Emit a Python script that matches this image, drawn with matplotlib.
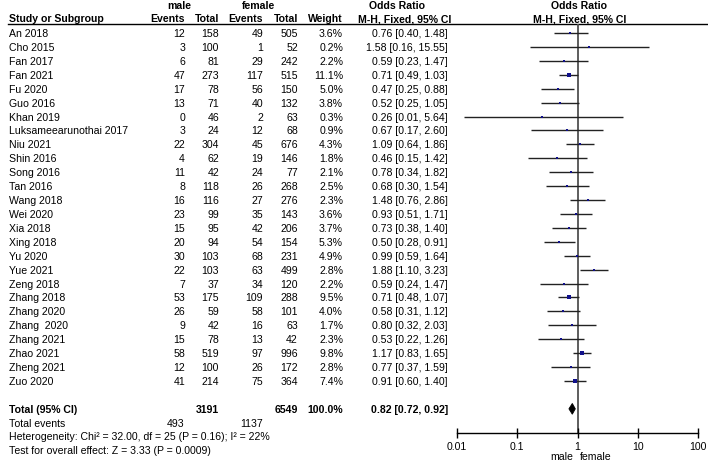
import matplotlib
matplotlib.use("Agg")
import matplotlib.pyplot as plt
from matplotlib.patches import Polygon

plt.rcParams['font.family'] = ['Liberation Sans', 'DejaVu Sans']

studies = ["An 2018", "Cho 2015", "Fan 2017", "Fan 2021", "Fu 2020", "Guo 2016", "Khan 2019",
           "Luksameearunothai 2017", "Niu 2021", "Shin 2016", "Song 2016", "Tan 2016", "Wang 2018",
           "Wei 2020", "Xia 2018", "Xing 2018", "Yu 2020", "Yue 2021", "Zeng 2018", "Zhang 2018",
           "Zhang 2020", "Zhang  2020", "Zhang 2021", "Zhao 2021", "Zheng 2021", "Zuo 2020"]
male_events = [12, 3, 6, 47, 17, 13, 0, 3, 22, 4, 11, 8, 16, 23, 15, 20, 30, 22, 7, 53, 26, 9, 15, 58, 12, 41]
male_total = [158, 100, 81, 273, 78, 71, 46, 24, 304, 62, 42, 118, 116, 99, 95, 94, 103, 103, 37, 175, 59, 42, 78, 519, 100, 214]
female_events = [49, 1, 29, 117, 56, 40, 2, 12, 45, 19, 24, 26, 27, 35, 42, 54, 68, 63, 34, 109, 58, 16, 13, 97, 26, 75]
female_total = [505, 52, 242, 515, 150, 132, 63, 68, 676, 146, 77, 268, 276, 143, 206, 154, 231, 499, 120, 288, 101, 63, 42, 996, 172, 364]
weights = [3.6, 0.2, 2.2, 11.1, 5.0, 3.8, 0.3, 0.9, 4.3, 1.8, 2.1, 2.5, 2.3, 3.6, 3.7, 5.3, 4.9, 2.8, 2.2, 9.5, 4.0, 1.7, 2.3, 9.8, 2.8, 7.4]
odds = [0.76, 1.58, 0.59, 0.71, 0.47, 0.52, 0.26, 0.67, 1.09, 0.46, 0.78, 0.68, 1.48, 0.93, 0.73, 0.50, 0.99, 1.88, 0.59, 0.71, 0.58, 0.80, 0.53, 1.17, 0.77, 0.91]
ci_low = [0.40, 0.16, 0.23, 0.49, 0.25, 0.25, 0.013, 0.17, 0.64, 0.15, 0.34, 0.30, 0.76, 0.51, 0.38, 0.28, 0.59, 1.10, 0.24, 0.48, 0.31, 0.32, 0.22, 0.83, 0.37, 0.60]
ci_high = [1.48, 15.55, 1.47, 1.03, 0.88, 1.05, 5.64, 2.60, 1.86, 1.42, 1.82, 1.54, 2.86, 1.71, 1.40, 0.91, 1.64, 3.23, 1.47, 1.07, 1.12, 2.03, 1.26, 1.65, 1.59, 1.40]
pooled_or = 0.82
pooled_low = 0.72
pooled_high = 0.92
total_weight = 100.0
total_male = 3191
total_female = 6549
events_male_total = 493
events_female_total = 1137
heterogeneity = "Heterogeneity: Chi² = 32.00, df = 25 (P = 0.16); I² = 22%"
overall = "Test for overall effect: Z = 3.33 (P = 0.0009)"
xticks = [0.01, 0.1, 1, 10, 100]
xtick_labels = ["0.01", "0.1", "1", "10", "100"]

W, H = 708, 464
fig = plt.figure(figsize=(W / 100, H / 100), dpi=100)

# layout in pixels
y0, dy = 34.0, 13.92
head_line = 24.5
axis_y = 434.0
fx0, fx1 = 457.0, 698.0
fs = 7.6

def ry(i):
    return y0 + dy * i

# text axes in pixel coordinates
ax_t = fig.add_axes([0, 0, 1, 1])
ax_t.set_xlim(0, W)
ax_t.set_ylim(H, 0)
ax_t.axis('off')

# forest axes
ax_f = fig.add_axes([fx0 / W, (H - axis_y) / H, (fx1 - fx0) / W, (axis_y - head_line) / H])
ax_f.set_xscale('log')
ax_f.set_xlim(0.01, 100)
ax_f.set_ylim((axis_y - y0) / dy, (head_line - y0) / dy)
ax_f.patch.set_alpha(0)
for s in ['top', 'left', 'right']:
    ax_f.spines[s].set_visible(False)
ax_f.spines['bottom'].set_linewidth(1.0)
ax_f.set_yticks([])
ax_f.set_xticks(xticks)
ax_f.set_xticklabels(xtick_labels, fontsize=fs)
ax_f.minorticks_off()
ax_f.tick_params(axis='x', direction='inout', length=7, width=1.0, pad=2)

# header
kw = dict(fontsize=fs, va='center')
ax_t.text(179, 6, "male", ha='center', fontweight='bold', **kw)
ax_t.text(258, 6, "female", ha='center', fontweight='bold', **kw)
ax_t.text(397, 6, "Odds Ratio", ha='center', fontweight='bold', **kw)
ax_t.text(579, 6, "Odds Ratio", ha='center', fontweight='bold', **kw)
ax_t.text(9, 19.5, "Study or Subgroup", ha='left', fontweight='bold', **kw)
ax_t.text(185, 19.5, "Events", ha='right', fontweight='bold', **kw)
ax_t.text(219, 19.5, "Total", ha='right', fontweight='bold', **kw)
ax_t.text(263, 19.5, "Events", ha='right', fontweight='bold', **kw)
ax_t.text(298, 19.5, "Total", ha='right', fontweight='bold', **kw)
ax_t.text(343, 19.5, "Weight", ha='right', fontweight='bold', **kw)
ax_t.text(405, 19.5, "M-H, Fixed, 95% CI", ha='center', fontweight='bold', **kw)
ax_t.text(580, 19.5, "M-H, Fixed, 95% CI", ha='center', fontweight='bold', **kw)
ax_t.plot([8, W], [head_line, head_line], color='black', lw=1.0)

# study rows
for i, name in enumerate(studies):
    y = ry(i)
    ax_t.text(9, y, name, ha='left', **kw)
    ax_t.text(185, y, f"{male_events[i]}", ha='right', **kw)
    ax_t.text(219, y, f"{male_total[i]}", ha='right', **kw)
    ax_t.text(263, y, f"{female_events[i]}", ha='right', **kw)
    ax_t.text(298, y, f"{female_total[i]}", ha='right', **kw)
    ax_t.text(343, y, f"{weights[i]:.1f}%", ha='right', **kw)
    ax_t.text(448, y, f"{odds[i]:.2f} [{ci_low[i]:.2f}, {ci_high[i]:.2f}]", ha='right', **kw)

# forest marks
ax_f.axvline(1, color='#505050', lw=1.3, zorder=1)
for i in range(len(studies)):
    ax_f.plot([ci_low[i], ci_high[i]], [i, i], color='#222222', lw=1.0, zorder=2,
              clip_on=False, solid_capstyle='butt')
    side_px = max(2.0, 1.15 * weights[i] ** 0.5)
    ax_f.plot([odds[i]], [i], marker='s', color='#10108a', markersize=side_px * 0.72,
              markeredgewidth=0, zorder=3)

# total row
tr = len(studies) + 1
yt = ry(tr)
ax_t.text(9, yt, "Total (95% CI)", ha='left', fontweight='bold', **kw)
ax_t.text(219, yt, f"{total_male}", ha='right', fontweight='bold', **kw)
ax_t.text(298, yt, f"{total_female}", ha='right', fontweight='bold', **kw)
ax_t.text(343, yt, f"{total_weight:.1f}%", ha='right', fontweight='bold', **kw)
ax_t.text(448, yt, f"{pooled_or:.2f} [{pooled_low:.2f}, {pooled_high:.2f}]", ha='right',
          fontweight='bold', **kw)
hh = 5.4 / dy
ax_f.add_patch(Polygon([(pooled_low, tr), (pooled_or, tr - hh), (pooled_high, tr), (pooled_or, tr + hh)],
                       closed=True, facecolor='black', edgecolor='black', lw=0.6, zorder=4))

ax_t.text(9, 424, "Total events", ha='left', **kw)
ax_t.text(184, 424, f"{events_male_total}", ha='right', **kw)
ax_t.text(263, 424, f"{events_female_total}", ha='right', **kw)
ax_t.text(9, 437.5, heterogeneity, ha='left', **kw)
ax_t.text(9, 451, overall, ha='left', **kw)

# favours labels
ax_t.text(573, 457, "male", ha='right', **kw)
ax_t.text(580, 457, "female", ha='left', **kw)

fig.savefig("out.png", dpi=100)
